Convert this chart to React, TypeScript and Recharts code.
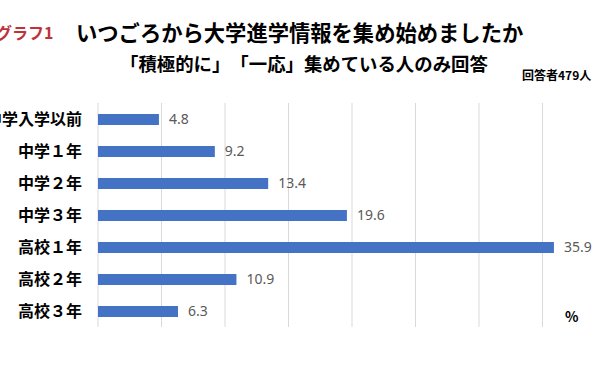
import React from "react";
import { BarChart, Bar, XAxis, YAxis, CartesianGrid, LabelList } from "recharts";

const categories = ["中学入学以前", "中学１年", "中学２年", "中学３年", "高校１年", "高校２年", "高校３年"];
const values = [4.8, 9.2, 13.4, 19.6, 35.9, 10.9, 6.3];
const xTicks = [0, 5, 10, 15, 20, 25, 30, 35, 40];

const data = categories.map((name, i) => ({ name, value: values[i] }));

const jp = '"Noto Sans CJK JP", "Noto Sans", sans-serif';
const noTrim: React.CSSProperties = { textSpacingTrim: "space-all" } as any;

export default function App() {
  return (
    <div style={{ position: "absolute", left: 0, top: 0, width: 600, height: 374, overflow: "hidden", background: "#fff", fontFamily: jp }}>
      <div style={{ position: "absolute", left: -4, top: 22, fontSize: 16, lineHeight: "20px", fontWeight: 700, color: "#C0313A", whiteSpace: "nowrap" }}>グラフ1</div>
      <div style={{ position: "absolute", left: 76, top: 19, fontSize: 21.3, lineHeight: "26px", fontWeight: 700, color: "#000", whiteSpace: "nowrap" }}>いつごろから大学進学情報を集め始めましたか</div>
      <div style={{ ...noTrim, position: "absolute", left: 120, top: 52, fontSize: 18.4, lineHeight: "22px", fontWeight: 700, color: "#000", whiteSpace: "nowrap" }}>「積極的に」「一応」集めている人のみ回答</div>
      <div style={{ position: "absolute", left: 522, top: 67, fontSize: 12, lineHeight: "15px", fontWeight: 700, color: "#000", whiteSpace: "nowrap" }}>回答者479人</div>
      <div style={{ position: "absolute", left: 565, top: 307, fontSize: 14, lineHeight: "18px", fontWeight: 700, color: "#000", whiteSpace: "nowrap" }}>%</div>
      <div style={{ position: "absolute", left: 0, top: 0 }}>
        <BarChart
          width={614}
          height={374}
          data={data}
          layout="vertical"
          margin={{ top: 103, right: 8, bottom: 47, left: 0 }}
        >
          <CartesianGrid horizontal={false} vertical={true} stroke="#d9d9d9" strokeWidth={1} />
          <XAxis type="number" domain={[0, 40]} ticks={xTicks} hide />
          <YAxis
            type="category"
            dataKey="name"
            width={98}
            axisLine={false}
            tickLine={false}
            tickSize={0}
            tickMargin={16}
            tick={{ fontSize: 16, fontWeight: 700, fill: "#000", fontFamily: jp }}
          />
          <Bar dataKey="value" fill="#4472C4" barSize={11} isAnimationActive={false}>
            <LabelList dataKey="value" position="right" offset={10} fill="#595959" fontSize={14} fontFamily='"Noto Sans", sans-serif' />
          </Bar>
        </BarChart>
      </div>
    </div>
  );
}
